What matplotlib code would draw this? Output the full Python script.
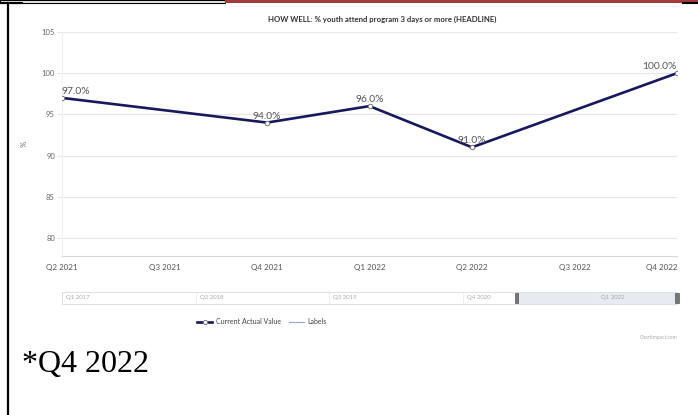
import matplotlib
matplotlib.use("Agg")
import matplotlib.pyplot as plt
import matplotlib.patches as mpatches
from matplotlib.lines import Line2D

# chart data
categories = ["Q2 2021", "Q3 2021", "Q4 2021", "Q1 2022", "Q2 2022", "Q3 2022", "Q4 2022"]
value_quarters = ["Q2 2021", "Q4 2021", "Q1 2022", "Q2 2022", "Q4 2022"]
values = [97.0, 94.0, 96.0, 91.0, 100.0]
y_ticks = [80, 85, 90, 95, 100, 105]

# navigator (range selector) data
nav_start_year = 2017
nav_end_year = 2022
nav_labels = ["Q1 2017", "Q2 2018", "Q3 2019", "Q4 2020", "Q1 2022"]
selected = ("Q2 2021", "Q4 2022")

title = "HOW WELL: % youth attend program 3 days or more (HEADLINE)"
footnote = "*Q4 2022"

W, H = 698, 415
fig = plt.figure(figsize=(W / 100, H / 100), dpi=100)
fig.patch.set_facecolor("white")

def fx(x):
    return x / W

def fy(y):
    return 1 - y / H

sans = ["Lato", "DejaVu Sans"]

# main chart
ax = fig.add_axes([fx(62), fy(256), fx(677) - fx(62), fy(32) - fy(256)])
xs = [categories.index(q) for q in value_quarters]
ax.plot(xs, values, color="#18185e", lw=1.9, marker="o", ms=3.2,
        mfc="white", mec="#777777", mew=0.7, zorder=3)
for i, (x, v) in enumerate(zip(xs, values)):
    ha = "left" if i == 0 else ("right" if i == len(xs) - 1 else "center")
    ax.annotate(f"{v:.1f}%", (x, v), xytext=(0, 1.5), textcoords="offset points",
                ha=ha, va="bottom", fontsize=7.4, color="#555555", family=sans, zorder=4)

ax.set_xlim(0, len(categories) - 1)
ax.set_ylim(77.8, 105)
ax.set_yticks(y_ticks)
ax.set_xticks(range(len(categories)))
ax.set_xticklabels(categories)
ax.grid(axis="y", color="#e6e6e6", lw=0.8)
ax.set_axisbelow(True)
for s in ["top", "right"]:
    ax.spines[s].set_visible(False)
ax.spines["left"].set_color("#f0f0f0")
ax.spines["bottom"].set_color("#d8d8d8")
ax.tick_params(axis="y", length=3.6, color="#e6e6e6", pad=1.5, labelsize=5.5, labelcolor="#666666")
ax.tick_params(axis="x", length=0, pad=6, labelsize=5.8, labelcolor="#555555")
for lab in ax.get_xticklabels() + ax.get_yticklabels():
    lab.set_family(sans)
ax.get_xticklabels()[-1].set_ha("right")
ax.set_ylabel("%", fontsize=5.5, color="#666666", family=sans, labelpad=10)

fig.text(fx(382), fy(19), title, ha="center", va="center", fontsize=5.6,
         fontweight="bold", color="#333333", family=sans)

# navigator
nav_q = [f"Q{q} {y}" for y in range(nav_start_year, nav_end_year + 1) for q in range(1, 5)]
nax = fig.add_axes([fx(62), fy(304), fx(677) - fx(62), fy(292) - fy(304)])
nax.set_xlim(0, len(nav_q) - 1)
nax.set_ylim(0, 1)
nax.set_xticks([])
nax.set_yticks([])
for s in nax.spines.values():
    s.set_color("#e0e0e0")
    s.set_linewidth(0.7)
a, b = nav_q.index(selected[0]), nav_q.index(selected[1])
nax.axvspan(a, b, color="#e6ebf1", zorder=0)
for lab in nav_labels:
    p = nav_q.index(lab)
    nax.axvline(p, color="#eeeeee", lw=0.7)
    nax.text(p + 0.15, 0.5, lab, fontsize=4.3, color="#aaaaaa", va="center", ha="left", family=sans)
for p in (a, b):
    nax.add_patch(mpatches.Rectangle((p - 0.06, 0.12), 0.12, 0.76, facecolor="#777777",
                                     edgecolor="#444444", lw=0.4, zorder=5, clip_on=False))

# legend
handles = [Line2D([], [], color="#18185e", lw=1.9, marker="o", ms=3, mfc="white", mec="#777777", mew=0.7),
           Line2D([], [], color="#9aa6c8", lw=0.8)]
leg = fig.legend(handles, ["Current Actual Value", "Labels"], loc="center",
                 bbox_to_anchor=(fx(262), fy(322)), ncol=2, frameon=False,
                 fontsize=5, handlelength=2.2, handletextpad=0.5, columnspacing=1.2)
for t in leg.get_texts():
    t.set_color("#444444")
    t.set_family(sans)

fig.text(fx(678), fy(337), "Chartimpact.com", ha="right", va="center", fontsize=3.6,
         color="#aaaaaa", family=sans)

# footnote
fig.text(fx(22), fy(372), footnote, ha="left", va="baseline", fontsize=23,
         color="black", family="Liberation Serif")

# page decorations around the chart
fig.add_artist(mpatches.Rectangle((0, fy(3)), fx(225), fy(0) - fy(3), transform=fig.transFigure,
                                  facecolor="#e9e9e9", edgecolor="black", lw=0.8))
fig.add_artist(mpatches.Rectangle((fx(225), fy(3)), 1 - fx(225), fy(0) - fy(3), transform=fig.transFigure,
                                  facecolor="#a33a3a", edgecolor="none"))
fig.add_artist(Line2D([fx(0), fx(22)], [fy(3.5), fy(3.5)], transform=fig.transFigure, color="black", lw=1.5))
fig.add_artist(Line2D([fx(683), fx(698)], [fy(3.5), fy(3.5)], transform=fig.transFigure, color="black", lw=1.5))
fig.add_artist(Line2D([fx(8), fx(8)], [fy(3), 0], transform=fig.transFigure, color="black", lw=1.6))

fig.savefig("out.png", dpi=100)
